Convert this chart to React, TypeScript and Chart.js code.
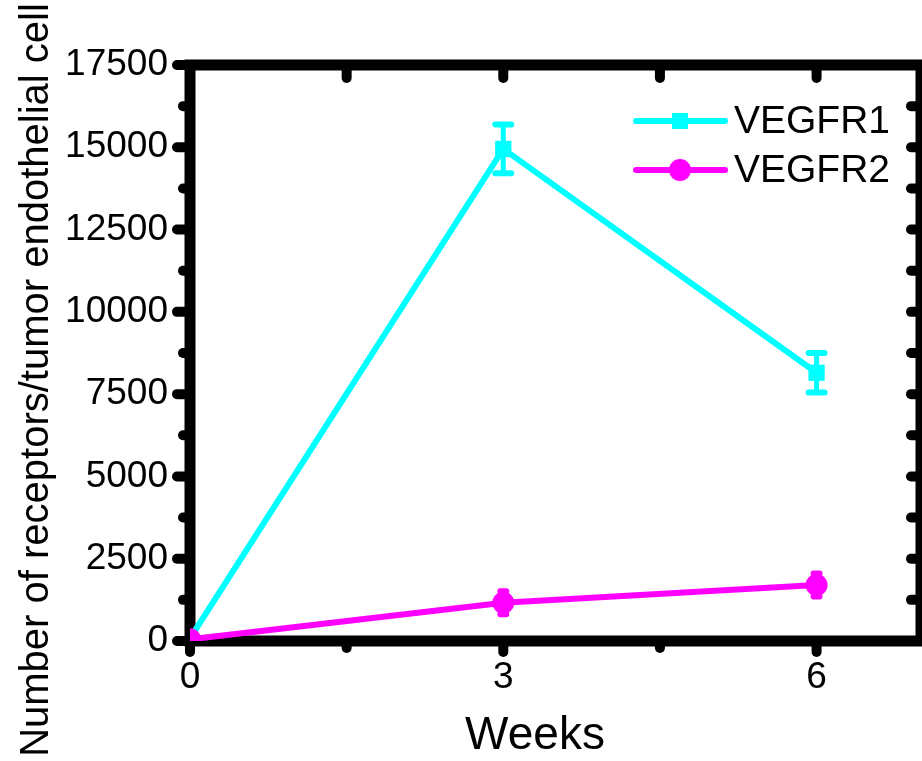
import React, { useEffect, useRef } from "react";
import { Chart, registerables } from "chart.js";

Chart.register(...registerables);

const weeks = [0, 3, 6];
const vegfr1 = [80, 14950, 8150];
const vegfr1Err = [0, 740, 600];
const vegfr2 = [50, 1160, 1700];
const vegfr2Err = [0, 350, 350];
const xTickValues = [0, 3, 6];
const seriesNames = ["VEGFR1", "VEGFR2"];
const xTitle = "Weeks";
const yTitle = "Number of receptors/tumor endothelial cell";

const FONT = "'Liberation Sans', Arial, sans-serif";
const CYAN = "#00FFFF";
const MAGENTA = "#FF00FF";

const framePlugin = {
  id: "frame",
  beforeDatasetsDraw(chart: any) {
    const { ctx, chartArea } = chart;
    const { left, right, top, bottom } = chartArea;
    const x = chart.scales.x;
    const y = chart.scales.y;
    ctx.save();
    ctx.strokeStyle = "#000";
    ctx.lineWidth = 11;
    ctx.lineJoin = "miter";
    ctx.strokeRect(left, top, right - left, bottom - top);
    ctx.lineCap = "round";
    ctx.lineWidth = 10;
    for (let v = 0; v <= 17500; v += 1250) {
      const py = y.getPixelForValue(v);
      const major = v % 2500 === 0;
      ctx.beginPath();
      ctx.moveTo(left, py);
      ctx.lineTo(left - (major ? 13 : 7), py);
      ctx.stroke();
      if (v > 0 && v < 17500) {
        ctx.beginPath();
        ctx.moveTo(right, py);
        ctx.lineTo(right - 10, py);
        ctx.stroke();
      }
    }
    for (let v = 0; v <= 6; v += 1.5) {
      const px = x.getPixelForValue(v);
      const major = v % 3 === 0;
      ctx.beginPath();
      ctx.moveTo(px, bottom);
      ctx.lineTo(px, bottom + (major ? 11 : 7));
      ctx.stroke();
      if (v > 0) {
        ctx.beginPath();
        ctx.moveTo(px, top);
        ctx.lineTo(px, top + 13);
        ctx.stroke();
      }
    }
    ctx.restore();
  },
};

const errorPlugin = {
  id: "errbars",
  afterDatasetsDraw(chart: any) {
    const { ctx } = chart;
    const x = chart.scales.x;
    const y = chart.scales.y;
    const sets = [
      { vals: vegfr1, errs: vegfr1Err, color: CYAN, cap: 8 },
      { vals: vegfr2, errs: vegfr2Err, color: MAGENTA, cap: 3 },
    ];
    ctx.save();
    ctx.lineCap = "round";
    sets.forEach((s) => {
      ctx.strokeStyle = s.color;
      weeks.forEach((w, i) => {
        const e = s.errs[i];
        if (!e) return;
        const px = x.getPixelForValue(w);
        const p1 = y.getPixelForValue(s.vals[i] + e);
        const p2 = y.getPixelForValue(s.vals[i] - e);
        ctx.lineWidth = 5;
        ctx.beginPath();
        ctx.moveTo(px, p1);
        ctx.lineTo(px, p2);
        ctx.stroke();
        ctx.lineWidth = 6;
        ctx.beginPath();
        ctx.moveTo(px - s.cap, p1);
        ctx.lineTo(px + s.cap, p1);
        ctx.moveTo(px - s.cap, p2);
        ctx.lineTo(px + s.cap, p2);
        ctx.stroke();
      });
    });
    ctx.restore();
  },
};

const textPlugin = {
  id: "texts",
  afterDraw(chart: any) {
    const { ctx } = chart;
    ctx.save();
    ctx.fillStyle = "#000";
    ctx.save();
    ctx.translate(37, 380);
    ctx.rotate(-Math.PI / 2);
    ctx.font = `40px ${FONT}`;
    ctx.textAlign = "center";
    ctx.textBaseline = "middle";
    ctx.fillText(yTitle, 0, 0);
    ctx.restore();
    ctx.font = `46px ${FONT}`;
    ctx.textAlign = "center";
    ctx.textBaseline = "middle";
    ctx.fillText(xTitle, 535, 736);
    const rows = [
      { name: seriesNames[0], color: CYAN, style: "rect", y: 121 },
      { name: seriesNames[1], color: MAGENTA, style: "circle", y: 170 },
    ];
    rows.forEach((r) => {
      ctx.strokeStyle = r.color;
      ctx.fillStyle = r.color;
      ctx.lineWidth = 6;
      ctx.lineCap = "round";
      ctx.beginPath();
      ctx.moveTo(636, r.y);
      ctx.lineTo(725, r.y);
      ctx.stroke();
      if (r.style === "rect") {
        ctx.fillRect(672, r.y - 8, 16, 16);
      } else {
        ctx.beginPath();
        ctx.arc(680, r.y, 11, 0, Math.PI * 2);
        ctx.fill();
      }
      ctx.fillStyle = "#000";
      ctx.font = `39px ${FONT}`;
      ctx.textAlign = "left";
      ctx.textBaseline = "middle";
      ctx.fillText(r.name, 734, r.y + 1);
    });
    ctx.restore();
  },
};

export default function App() {
  const ref = useRef<HTMLCanvasElement | null>(null);
  useEffect(() => {
    document.body.style.margin = "0";
    const canvas = ref.current;
    if (!canvas) return;
    const chart = new Chart(canvas, {
      type: "line",
      data: {
        datasets: [
          {
            label: seriesNames[0],
            data: weeks.map((w, i) => ({ x: w, y: vegfr1[i] })),
            borderColor: CYAN,
            backgroundColor: CYAN,
            borderWidth: 6,
            pointStyle: "rect",
            pointRadius: 11.5,
            pointBorderWidth: 0,
            clip: 0,
            order: 1,
          },
          {
            label: seriesNames[1],
            data: weeks.map((w, i) => ({ x: w, y: vegfr2[i] })),
            borderColor: MAGENTA,
            backgroundColor: MAGENTA,
            borderWidth: 6,
            pointStyle: "circle",
            pointRadius: 11,
            pointBorderWidth: 0,
            clip: 0,
            order: 0,
          },
        ],
      },
      options: {
        animation: false,
        responsive: false,
        events: [],
        layout: { autoPadding: false, padding: { top: 65, right: 1, left: 0, bottom: 0 } },
        plugins: { legend: { display: false }, tooltip: { enabled: false } },
        scales: {
          x: {
            type: "linear",
            min: 0,
            max: 7,
            afterBuildTicks: (s: any) => {
              s.ticks = xTickValues.map((v) => ({ value: v }));
            },
            afterFit: (s: any) => {
              s.height = 120;
              s.paddingLeft = 0;
              s.paddingRight = 0;
            },
            grid: { display: false, drawTicks: false },
            border: { display: false },
            ticks: {
              font: { family: FONT, size: 37 },
              color: "#000",
              padding: 15,
              maxRotation: 0,
              callback: (v: any) => String(v),
            },
          },
          y: {
            type: "linear",
            min: 0,
            max: 17500,
            ticks: {
              stepSize: 2500,
              font: { family: FONT, size: 37 },
              color: "#000",
              padding: 22,
              callback: (v: any) => String(v),
            },
            afterFit: (s: any) => {
              s.width = 190;
              s.paddingTop = 0;
              s.paddingBottom = 0;
            },
            grid: { display: false, drawTicks: false },
            border: { display: false },
          },
        },
      },
      plugins: [framePlugin, errorPlugin, textPlugin],
    } as any);
    return () => chart.destroy();
  }, []);
  return <canvas ref={ref} width={922} height={761} style={{ display: "block" }} />;
}
